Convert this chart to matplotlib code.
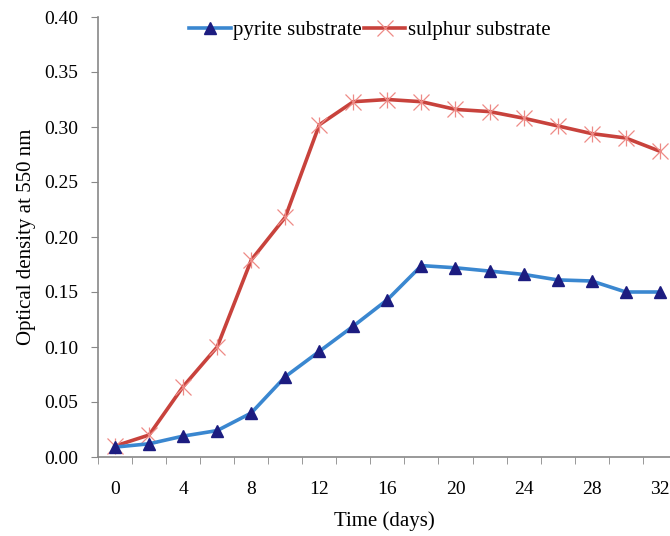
import numpy as np
import matplotlib
matplotlib.use("Agg")
from matplotlib import pyplot as plt

# data
days = [0, 2, 4, 6, 8, 10, 12, 14, 16, 18, 20, 22, 24, 26, 28, 30, 32]
pyrite = [0.009, 0.012, 0.019, 0.024, 0.040, 0.073, 0.096, 0.119, 0.143,
          0.174, 0.172, 0.169, 0.166, 0.161, 0.160, 0.150, 0.150]
sulphur = [0.010, 0.020, 0.064, 0.100, 0.179, 0.218, 0.302, 0.323, 0.325,
           0.323, 0.316, 0.314, 0.308, 0.301, 0.294, 0.290, 0.278]
y_ticks = [0.00, 0.05, 0.10, 0.15, 0.20, 0.25, 0.30, 0.35, 0.40]

plt.rcParams['font.family'] = ['Liberation Serif', 'DejaVu Serif']

fig = plt.figure(figsize=(6.7, 5.36), dpi=100)
ax = fig.add_axes([98 / 670, 1 - 457 / 536, 572 / 670, 440 / 536])

# Excel-style category axis: one slot per reading
pos = np.arange(len(days))
ax.plot(pos, pyrite, color='#3a87d0', lw=2.6, marker='^', ms=8,
        mfc='#1c1c80', mec='#1c1c80', label='pyrite substrate', zorder=3)
ax.plot(pos, sulphur, color='#c8423c', lw=2.6, marker='x', ms=11, mew=0.9,
        mec='#ee8a86', label='sulphur substrate', zorder=2)
# add the "|" part to make asterisks
ax.plot(pos, sulphur, ls='none', marker='|', ms=12, mew=0.9,
        mec='#ee8a86', zorder=2)

ax.set_xlim(-0.5, 16.3)
ax.set_ylim(0, 0.40)
ax.set_yticks(y_ticks)
ax.set_yticklabels(['%.2f' % v for v in y_ticks])

ax.set_xticks(pos[::2])
ax.set_xticklabels([str(d) for d in days[::2]])
ax.set_xticks(np.arange(-0.5, 16.5, 1.0), minor=True)
ax.tick_params(axis='x', which='major', length=0, pad=17, labelsize=14)
ax.tick_params(axis='x', which='minor', length=5, color='#888888')
ax.tick_params(axis='y', length=5, color='#888888', labelsize=14, pad=9)

for s in ['top', 'right']:
    ax.spines[s].set_visible(False)
for s in ['left', 'bottom']:
    ax.spines[s].set_color('#888888')
    ax.spines[s].set_linewidth(1.2)

ax.set_xlabel('Time (days)', fontsize=15, labelpad=10)
ax.set_ylabel('Optical density at 550 nm', fontsize=15, labelpad=6)

ax.legend(loc='upper center', bbox_to_anchor=(0.475, 1.035), ncol=2,
          frameon=False, fontsize=15, handlelength=2.0, handletextpad=0.1,
          columnspacing=0.1)

fig.savefig('out.png', dpi=100)
